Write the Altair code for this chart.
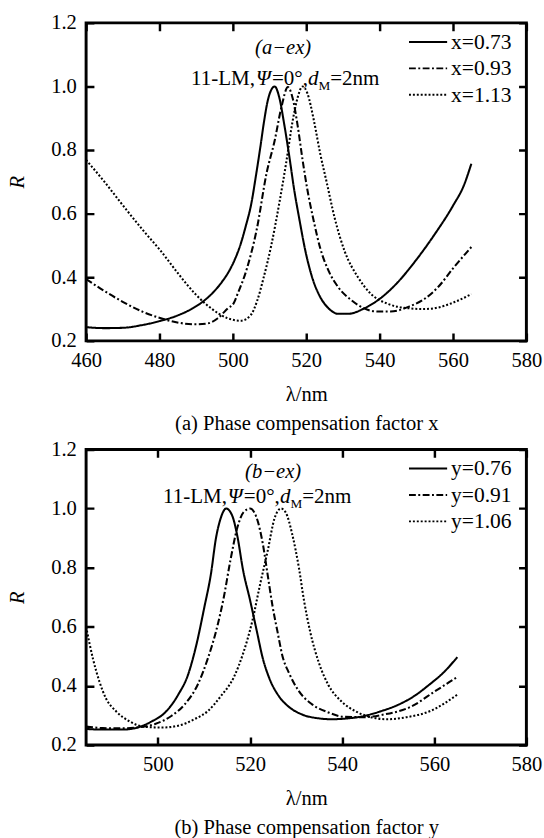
import altair as alt
import pandas as pd

FONT = "Liberation Serif"

# ---------------- Panel (a): phase compensation factor x ----------------
a_labels = ["x=0.73", "x=0.93", "x=1.13"]

a1_nm = [460, 465, 470, 475, 480, 485, 489, 492, 495, 497, 499, 500.5, 502, 503.5, 505,
         506.3, 507.5, 508.5, 509.5, 510.5, 511.4, 512.7, 514, 515.4, 516.7, 518.1, 519.8,
         521.6, 523.8, 526.1, 528.7, 531.4, 535.8, 541.2, 545, 550, 555, 560, 563, 565]
a1_R = [0.243, 0.240, 0.241, 0.249, 0.262, 0.280, 0.302, 0.325, 0.357, 0.385, 0.420,
        0.455, 0.500, 0.560, 0.630, 0.720, 0.810, 0.890, 0.955, 0.990, 1.000, 0.963,
        0.881, 0.779, 0.676, 0.584, 0.481, 0.400, 0.338, 0.302, 0.285, 0.285, 0.302,
        0.343, 0.385, 0.455, 0.535, 0.625, 0.690, 0.757]

a2_nm = [460, 464.8, 470.1, 475.5, 480.4, 485.2, 489.7, 493.2, 495.9, 498.6, 500.3,
         501.2, 503.9, 506.5, 509.2, 511.4, 513.2, 515, 516.3, 517.6, 519, 520.3, 522.1,
         523.8, 526.1, 528.7, 532.3, 535.8, 539.4, 543, 548.3, 552, 556, 560, 565]
a2_R = [0.394, 0.358, 0.322, 0.291, 0.271, 0.257, 0.252, 0.255, 0.271, 0.302, 0.320,
        0.345, 0.430, 0.550, 0.728, 0.830, 0.933, 0.998, 0.963, 0.881, 0.769, 0.676,
        0.574, 0.492, 0.420, 0.369, 0.328, 0.302, 0.292, 0.292, 0.309, 0.330, 0.370,
        0.428, 0.495]

a3_nm = [460, 464.8, 470.1, 475.5, 480.4, 485.2, 489.7, 494.1, 498.6, 502.1, 504.8,
         506.6, 508.3, 510.5, 512.7, 514.5, 516.3, 517.6, 519, 520.3, 522.1, 523.8,
         525.6, 527.8, 530.5, 534.1, 537.6, 542.1, 548.3, 552, 556, 560, 565]
a3_R = [0.769, 0.703, 0.625, 0.548, 0.482, 0.410, 0.348, 0.302, 0.271, 0.263, 0.280,
        0.325, 0.395, 0.502, 0.636, 0.758, 0.892, 0.963, 1.000, 0.979, 0.892, 0.789,
        0.697, 0.584, 0.481, 0.400, 0.348, 0.317, 0.302, 0.300, 0.305, 0.320, 0.347]

# ---------------- Panel (b): phase compensation factor y ----------------
b_labels = ["y=0.76", "y=0.91", "y=1.06"]

b1_nm = [484.4, 488, 492.3, 495.8, 498.7, 501.5, 504.4, 506.5, 508.3, 510.1, 511.5,
         512.6, 513.6, 514.8, 516.1, 517.2, 518.5, 520, 521.4, 522.8, 524.2, 526.3,
         528.5, 531.3, 534.9, 537.7, 541.3, 544.8, 548.4, 551.9, 555.5, 559, 562, 565]
b1_R = [0.254, 0.252, 0.252, 0.260, 0.280, 0.309, 0.370, 0.436, 0.536, 0.668, 0.778,
        0.900, 0.966, 1.000, 0.977, 0.910, 0.790, 0.690, 0.590, 0.491, 0.425, 0.364,
        0.328, 0.303, 0.290, 0.287, 0.290, 0.298, 0.314, 0.334, 0.364, 0.405, 0.445,
        0.497]

b2_nm = [484.4, 488, 492.3, 495.8, 499.4, 502.9, 505.8, 508.6, 510.8, 512.9, 514.3,
         515.7, 517.2, 518.6, 520, 521.4, 522.8, 523.8, 524.9, 526, 527, 528.5, 530.6,
         533.4, 537, 540.5, 544.8, 549.1, 555, 560, 565]
b2_R = [0.262, 0.257, 0.256, 0.260, 0.271, 0.298, 0.337, 0.403, 0.491, 0.602, 0.700,
        0.822, 0.933, 0.988, 1.000, 0.970, 0.878, 0.778, 0.668, 0.580, 0.503, 0.442,
        0.382, 0.338, 0.310, 0.295, 0.294, 0.303, 0.330, 0.380, 0.430]

b3_nm = [484.4, 485.9, 487.3, 488.7, 490.9, 493.7, 497.3, 500.8, 504.4, 507.9, 510.8,
         513.6, 516.5, 518.5, 520.5, 522.2, 523.8, 525.3, 526.7, 527.7, 529.2, 530.6,
         531.7, 533.1, 534.9, 537, 539.8, 543.4, 546.2, 549.8, 554, 559, 565]
b3_R = [0.600, 0.491, 0.414, 0.358, 0.314, 0.281, 0.261, 0.259, 0.265, 0.287, 0.314,
        0.364, 0.430, 0.510, 0.620, 0.745, 0.855, 0.966, 1.000, 0.988, 0.910, 0.800,
        0.690, 0.580, 0.480, 0.403, 0.348, 0.310, 0.294, 0.287, 0.294, 0.314, 0.370]

x_ticks_a = [460, 480, 500, 520, 540, 560, 580]
x_ticks_b = [500, 520, 540, 560, 580]
y_ticks = [0.2, 0.4, 0.6, 0.8, 1.0, 1.2]
x_domain_a = [460, 580]
x_domain_b = [484.4, 580]
y_domain = [0.2, 1.2]

dash_range = [[1, 0], [7, 2.5, 2, 2.5], [2, 2]]

# text annotation pieces: (text, italic, size, dy)
ann_line2 = [("11-LM,", False, 21.5, 0), ("Ψ", True, 21.5, 0), ("=0°,", False, 21.5, 0),
             ("d", True, 21.5, 0), ("M", False, 13.5, 5), ("=2nm", False, 21.5, 0)]
WIDTHS = {"1": 500, "-": 333, "L": 611, "M": 889, ",": 250, "Ψ": 760, "=": 564,
          "0": 500, "°": 400, "d": 500, "2": 500, "n": 500, "m": 778}


def long_df(labels, xs_list, ys_list):
    rows = []
    for lab, xs, ys in zip(labels, xs_list, ys_list):
        for x, y in zip(xs, ys):
            rows.append({"series": lab, "nm": x, "R": y})
    return pd.DataFrame(rows)


def panel(df, labels, x_domain, x_ticks, width, height, caption, tag,
          tag_x, line2_x, line2_y):
    xs = alt.Scale(domain=x_domain, nice=False, zero=False)
    ys = alt.Scale(domain=y_domain, nice=False, zero=False)
    common = dict(labelFont=FONT, labelFontSize=21, labelColor="black",
                  titleFont=FONT, titleFontSize=21, titleColor="black",
                  titleFontWeight="normal", domain=False, ticks=False, tickSize=0,
                  grid=True, gridColor="black", gridWidth=2.5, gridOpacity=1)
    x_axis = alt.Axis(values=x_ticks, format="d", title=["λ/nm", caption],
                      titleLineHeight=30, titlePadding=14, labelPadding=9,
                      labelFlush=False, gridDash=[8, height - 16, 8, 2000], **common)
    y_axis = alt.Axis(values=y_ticks, format=".1f", title="R", titleFontStyle="italic",
                      titlePadding=24, labelPadding=10,
                      gridDash=[8, width - 16, 8, 2000], **common)
    lines = alt.Chart(df).mark_line(interpolate="monotone", strokeWidth=2.1,
                                    clip=True).encode(
        x=alt.X("nm:Q", scale=xs, axis=x_axis),
        y=alt.Y("R:Q", scale=ys, axis=y_axis),
        color=alt.value("black"),
        strokeDash=alt.StrokeDash(
            "series:N",
            scale=alt.Scale(domain=labels, range=dash_range),
            legend=alt.Legend(orient="none", legendX=329, legendY=9, title=None,
                              symbolType="stroke", symbolSize=1521, clipHeight=21,
                              symbolStrokeWidth=2, symbolStrokeColor="black",
                              labelFont=FONT, labelFontSize=22, labelColor="black",
                              labelOffset=3, rowPadding=4),
        ),
    )
    layers = [lines]
    tag_layer = alt.Chart().mark_text(font=FONT, fontSize=21, fontStyle="italic",
                                      align="center", baseline="alphabetic",
                                      color="black").encode(
        x=alt.datum(tag_x, scale=xs), y=alt.datum(1.102, scale=ys), text=alt.value(tag))
    layers.append(tag_layer)
    off = 0.0
    for txt, ital, size, dy in ann_line2:
        kw = dict(font=FONT, fontSize=size, align="left", baseline="alphabetic",
                  color="black", dx=off, dy=dy)
        if ital:
            kw["fontStyle"] = "italic"
        layers.append(alt.Chart().mark_text(**kw).encode(
            x=alt.datum(line2_x, scale=xs), y=alt.datum(line2_y, scale=ys),
            text=alt.value(txt)))
        off += sum(WIDTHS.get(c, 500) for c in txt) * size / 1000.0
    return alt.layer(*layers).properties(width=width, height=height)


df_a = long_df(a_labels, [a1_nm, a2_nm, a3_nm], [a1_R, a2_R, a3_R])
df_b = long_df(b_labels, [b1_nm, b2_nm, b3_nm], [b1_R, b2_R, b3_R])

top = panel(df_a, a_labels, x_domain_a, x_ticks_a, 450, 325,
            "(a) Phase compensation factor x", "(a−ex)", 513.7, 488.6, 1.005)
bottom = panel(df_b, b_labels, x_domain_b, x_ticks_b, 450, 302,
               "(b) Phase compensation factor y", "(b−ex)", 525.0, 501.1, 1.02)

chart = alt.vconcat(top, bottom, spacing=1).resolve_scale(
    x="independent", strokeDash="independent"
).resolve_legend(strokeDash="independent").properties(
    padding={"left": 5, "top": 1, "right": 0, "bottom": 0}
).configure_view(stroke="black", strokeWidth=3)

chart.save("out.html", embed_options={"renderer": "svg", "actions": False})
